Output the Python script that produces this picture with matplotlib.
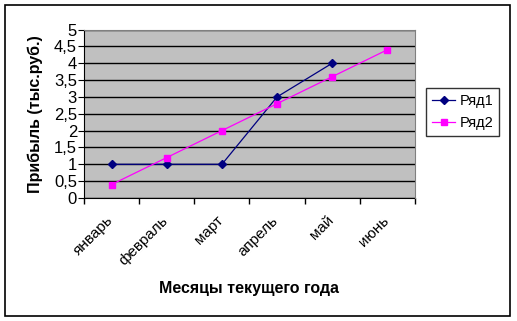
import matplotlib.pyplot as plt
import matplotlib.transforms as mtransforms
from matplotlib.patches import Rectangle
from matplotlib.ticker import FuncFormatter

plt.rcParams['font.family'] = ['Liberation Sans', 'DejaVu Sans']

months = ['январь', 'февраль', 'март', 'апрель', 'май', 'июнь']
row1 = [1, 1, 1, 3, 4]
row2 = [0.4, 1.2, 2.0, 2.8, 3.6, 4.4]
yticks = [0, 0.5, 1, 1.5, 2, 2.5, 3, 3.5, 4, 4.5, 5]

fig = plt.figure(figsize=(5.17, 3.21), dpi=100)
fig.patch.set_facecolor('white')
fig.patches.append(Rectangle((5 / 517, 1 - 316 / 321), 505 / 517, 311 / 321,
                             transform=fig.transFigure, fill=False,
                             edgecolor='black', linewidth=1.2))

ax = fig.add_axes([84 / 517, 1 - 198 / 321, 331 / 517, 168.5 / 321])
ax.set_facecolor('#c0c0c0')

xs = [i + 0.5 for i in range(len(months))]
ax.plot(xs[:len(row1)], row1, color='#000080', lw=0.9, marker='D',
        markersize=4, label='Ряд1')
ax.plot(xs, row2, color='#ff00ff', lw=0.9, marker='s',
        markersize=5, label='Ряд2')

ax.set_xlim(0, len(months))
ax.set_ylim(0, 5)
ax.set_yticks(yticks)
ax.yaxis.set_major_formatter(FuncFormatter(lambda v, p: ('%g' % v).replace('.', ',')))
ax.set_xticks(range(len(months) + 1))
ax.set_xticklabels([])
ax.set_xticks(xs, minor=True)
ax.set_xticklabels(months, minor=True, rotation=45, ha='right', va='top',
                   rotation_mode='anchor', fontsize=11)
ax.tick_params(axis='x', which='minor', length=0, pad=11)
ax.tick_params(axis='x', which='major', length=4, direction='out', width=1)
ax.tick_params(axis='y', length=4, direction='out', labelsize=12, pad=1)
shift = mtransforms.ScaledTranslation(-6 / 100, 0, fig.dpi_scale_trans)
for lbl in ax.get_xticklabels(minor=True):
    lbl.set_transform(lbl.get_transform() + shift)
ax.grid(axis='y', color='black', lw=1)
ax.set_axisbelow(True)

for s in ['top', 'right']:
    ax.spines[s].set_color('#808080')
    ax.spines[s].set_zorder(3)
for s in ['left', 'bottom']:
    ax.spines[s].set_color('black')

ax.set_ylabel('Прибыль (тыс.руб.)', fontsize=11.5, fontweight='bold', labelpad=8)
ax.set_xlabel('Месяцы текущего года', fontsize=11.5, fontweight='bold', labelpad=10)

leg = ax.legend(loc='upper left', bbox_to_anchor=(426 / 517, 1 - 88 / 321),
                bbox_transform=fig.transFigure, frameon=True, fancybox=False,
                edgecolor='black', fontsize=10.5, handlelength=1.6,
                borderpad=0.4, labelspacing=0.55, handletextpad=0.3,
                borderaxespad=0)
leg.get_frame().set_linewidth(1)

fig.savefig('out.png', dpi=100)
